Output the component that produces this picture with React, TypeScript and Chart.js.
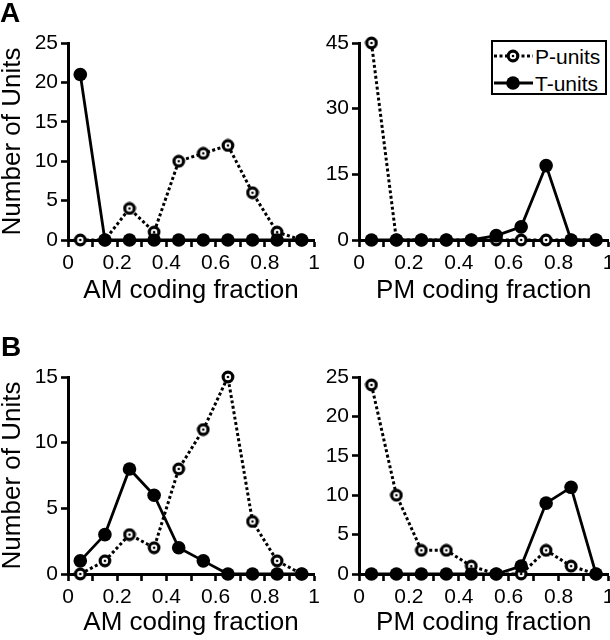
import React, { useEffect, useRef } from 'react';
import { Chart, registerables } from 'chart.js';

Chart.register(...registerables);

// ---- data ----
const binCenters = [0.05, 0.15, 0.25, 0.35, 0.45, 0.55, 0.65, 0.75, 0.85, 0.95];

const amSingleP = [0, 0, 4, 1, 10, 11, 12, 6, 1, 0];
const amSingleT = [21, 0, 0, 0, 0, 0, 0, 0, 0, 0];
const pmSingleP = [45, 0, 0, 0, 0, 0, 0, 0, 0, 0];
const pmSingleT = [0, 0, 0, 0, 0, 1, 3, 17, 0, 0];

const amPopP = [0, 1, 3, 2, 8, 11, 15, 4, 1, 0];
const amPopT = [1, 3, 8, 6, 2, 1, 0, 0, 0, 0];
const pmPopP = [24, 10, 3, 3, 1, 0, 0, 3, 1, 0];
const pmPopT = [0, 0, 0, 0, 0, 0, 1, 9, 11, 0];

const xTickValues = [0, 0.1, 0.2, 0.3, 0.4, 0.5, 0.6, 0.7, 0.8, 0.9, 1];
const xTickLabels = ['0', '', '0.2', '', '0.4', '', '0.6', '', '0.8', '', '1'];

const yTicksAL = [0, 5, 10, 15, 20, 25];
const yTicksAR = [0, 15, 30, 45];
const yTicksBL = [0, 5, 10, 15];
const yTicksBR = [0, 5, 10, 15, 20, 25];

const seriesNames = ['P-units', 'T-units'];
const yTitle = 'Number of Units';
const xTitleAM = 'AM coding fraction';
const xTitlePM = 'PM coding fraction';

const FONT = '"Liberation Sans", Arial, Helvetica, sans-serif';

function makeOpenMarker(): HTMLCanvasElement {
  const c = document.createElement('canvas');
  c.width = 14;
  c.height = 14;
  const g = c.getContext('2d')!;
  g.beginPath();
  g.arc(7, 7, 4.8, 0, Math.PI * 2);
  g.fillStyle = '#fff';
  g.fill();
  g.lineWidth = 3.2;
  g.strokeStyle = '#000';
  g.stroke();
  g.beginPath();
  g.arc(7, 7, 1.3, 0, Math.PI * 2);
  g.fillStyle = '#000';
  g.fill();
  return c;
}

type PanelSpec = {
  cx: number; cy: number; cw: number; ch: number;
  aL: number; aR: number; aT: number; aB: number; pb: number;
  showYTitle: boolean;
  xTitle: string;
  yTicks: number[];
  pVals: number[];
  tVals: number[];
};

function Panel({ spec }: { spec: PanelSpec }) {
  const ref = useRef<HTMLCanvasElement | null>(null);
  useEffect(() => {
    if (!ref.current) return;
    const marker = makeOpenMarker();
    const yW = spec.aL - spec.cx;
    const xH = spec.cy + spec.ch - spec.pb - spec.aB;
    const yMax = spec.yTicks[spec.yTicks.length - 1];
    const chart = new Chart(ref.current, {
      type: 'line',
      data: {
        datasets: [
          {
            label: seriesNames[1],
            data: binCenters.map((x, i) => ({ x, y: spec.tVals[i] })),
            borderColor: '#000',
            backgroundColor: '#000',
            borderWidth: 2.8,
            pointRadius: 6.8,
            pointBorderWidth: 0,
            pointBackgroundColor: '#000',
            tension: 0,
            clip: false as any,
            order: 0,
          },
          {
            label: seriesNames[0],
            data: binCenters.map((x, i) => ({ x, y: spec.pVals[i] })),
            borderColor: '#000',
            backgroundColor: '#fff',
            borderWidth: 3,
            borderDash: [3, 2.5],
            pointStyle: marker as any,
            pointRadius: 6.5,
            tension: 0,
            clip: false as any,
            order: 1,
          },
        ],
      },
      options: {
        responsive: false,
        animation: false,
        events: [],
        layout: {
          padding: {
            left: 0,
            top: spec.aT - spec.cy,
            right: spec.cx + spec.cw - spec.aR,
            bottom: spec.pb,
          },
        },
        plugins: { legend: { display: false }, tooltip: { enabled: false } },
        scales: {
          x: {
            type: 'linear',
            min: 0,
            max: 1,
            afterFit: (s: any) => { s.height = xH; },
            afterBuildTicks: (s: any) => { s.ticks = xTickValues.map((v) => ({ value: v })); },
            ticks: {
              autoSkip: false,
              maxRotation: 0,
              color: '#000',
              padding: 4,
              font: { family: FONT, size: 21 },
              callback: (_v: any, i: number) => xTickLabels[i],
            },
            grid: { drawOnChartArea: false, drawTicks: true, tickLength: 7, tickWidth: 2.6, tickColor: '#000' },
            border: { display: true, color: '#000', width: 3 },
            title: {
              display: true,
              text: spec.xTitle,
              color: '#000',
              padding: 0,
              font: { family: FONT, size: 26, lineHeight: 1 },
            },
          },
          y: {
            type: 'linear',
            min: 0,
            max: yMax,
            afterFit: (s: any) => { s.width = yW; },
            afterBuildTicks: (s: any) => { s.ticks = spec.yTicks.map((v) => ({ value: v })); },
            ticks: {
              color: '#000',
              padding: 3,
              font: { family: FONT, size: 21 },
            },
            grid: { drawOnChartArea: false, drawTicks: true, tickLength: 7, tickWidth: 2.6, tickColor: '#000' },
            border: { display: true, color: '#000', width: 3 },
            title: {
              display: spec.showYTitle,
              text: yTitle,
              color: '#000',
              padding: 0,
              font: { family: FONT, size: 26, lineHeight: 1 },
            },
          },
        },
      },
    } as any);
    return () => chart.destroy();
  }, [spec]);
  return (
    <canvas
      ref={ref}
      width={spec.cw}
      height={spec.ch}
      style={{ position: 'absolute', left: spec.cx, top: spec.cy, width: spec.cw, height: spec.ch }}
    />
  );
}

const panels: PanelSpec[] = [
  { cx: 0, cy: 0, cw: 330, ch: 320, aL: 68, aR: 314, aT: 43, aB: 240, pb: 16, showYTitle: true, xTitle: xTitleAM, yTicks: yTicksAL, pVals: amSingleP, tVals: amSingleT },
  { cx: 318, cy: 0, cw: 302, ch: 320, aL: 359, aR: 608.5, aT: 43, aB: 240, pb: 16, showYTitle: false, xTitle: xTitlePM, yTicks: yTicksAR, pVals: pmSingleP, tVals: pmSingleT },
  { cx: 0, cy: 320, cw: 330, ch: 320, aL: 68, aR: 314, aT: 377, aB: 574, pb: 4, showYTitle: true, xTitle: xTitleAM, yTicks: yTicksBL, pVals: amPopP, tVals: amPopT },
  { cx: 318, cy: 320, cw: 302, ch: 320, aL: 359, aR: 608.5, aT: 377, aB: 574, pb: 4, showYTitle: false, xTitle: xTitlePM, yTicks: yTicksBR, pVals: pmPopP, tVals: pmPopT },
];

function Legend() {
  const textStyle: React.CSSProperties = {
    position: 'absolute',
    fontFamily: FONT,
    fontSize: 21,
    lineHeight: '21px',
    color: '#000',
    whiteSpace: 'nowrap',
  };
  return (
    <>
      <div
        style={{
          position: 'absolute', left: 491, top: 40, width: 116, height: 55,
          boxSizing: 'border-box', border: '2.5px solid #000', background: '#fff',
        }}
      />
      <svg style={{ position: 'absolute', left: 491, top: 40 }} width={46} height={55}>
        <line x1={3} y1={16} x2={42} y2={16} stroke="#000" strokeWidth={3} strokeDasharray="3 2.5" />
        <circle cx={22} cy={16} r={4.8} fill="#fff" stroke="#000" strokeWidth={3.2} />
        <circle cx={22} cy={16} r={1.3} fill="#000" />
        <line x1={3} y1={43} x2={42} y2={43} stroke="#000" strokeWidth={2.8} />
        <circle cx={22} cy={43} r={6.8} fill="#000" />
      </svg>
      <div style={{ ...textStyle, left: 535, top: 45.5 }}>{seriesNames[0]}</div>
      <div style={{ ...textStyle, left: 535, top: 72.5 }}>{seriesNames[1]}</div>
    </>
  );
}

export default function App() {
  const labelStyle: React.CSSProperties = {
    position: 'absolute',
    fontFamily: FONT,
    fontWeight: 'bold',
    fontSize: 28,
    lineHeight: '28px',
    color: '#000',
  };
  return (
    <div
      style={{
        position: 'absolute', left: 0, top: 0, width: 610, height: 640,
        overflow: 'hidden', background: '#fff',
      }}
    >
      {panels.map((p, i) => (
        <Panel key={i} spec={p} />
      ))}
      <Legend />
      <div style={{ ...labelStyle, left: 0, top: -1 }}>A</div>
      <div style={{ ...labelStyle, left: 1, top: 333 }}>B</div>
    </div>
  );
}
